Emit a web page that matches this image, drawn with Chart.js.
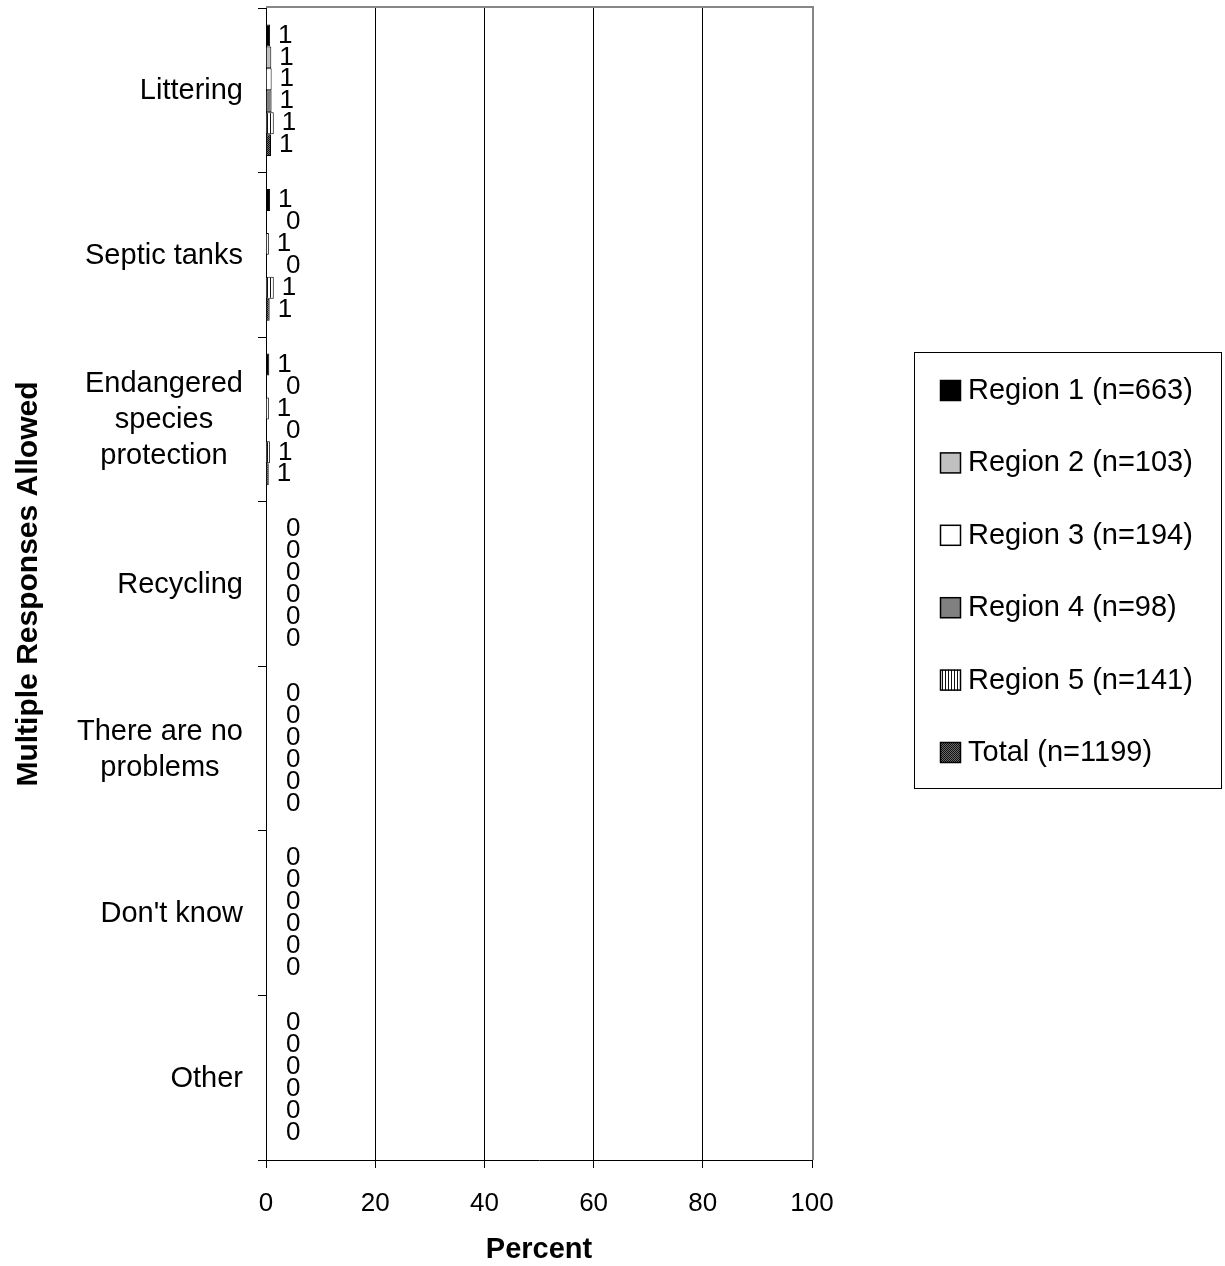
<!DOCTYPE html>
<html>
<head>
<meta charset="utf-8">
<script src="https://cdn.jsdelivr.net/npm/chart.js@4/dist/chart.umd.min.js"></script>
<style>
  html, body { margin: 0; padding: 0; background: #fff; }
  #wrap { width: 1225px; height: 1266px; }
</style>
</head>
<body>
<div id="wrap"><canvas id="chart" width="1225" height="1266"></canvas></div>
<script>
const categories = [
  "Littering",
  "Septic tanks",
  ["Endangered", "species", "protection"],
  "Recycling",
  ["There are no", "problems"],
  "Don't know",
  "Other"
];
const seriesNames = [
  "Region 1 (n=663)",
  "Region 2 (n=103)",
  "Region 3 (n=194)",
  "Region 4 (n=98)",
  "Region 5 (n=141)",
  "Total (n=1199)"
];
// percent values (labels are rounded)
const region1 = [0.75, 0.75, 0.6, 0, 0, 0, 0];
const region2 = [0.97, 0, 0, 0, 0, 0, 0];
const region3 = [1.03, 0.52, 0.52, 0, 0, 0, 0];
const region4 = [1.02, 0, 0, 0, 0, 0, 0];
const region5 = [1.42, 1.42, 0.71, 0, 0, 0, 0];
const total = [0.92, 0.67, 0.5, 0, 0, 0, 0];
const xMin = 0, xMax = 100, xStep = 20;

const FONT = 'Arial, "Liberation Sans", sans-serif';
Chart.defaults.font.family = FONT;
Chart.defaults.color = "#000";

const canvas = document.getElementById("chart");
const ctx = canvas.getContext("2d");

function makePattern(w, h, draw) {
  const c = document.createElement("canvas");
  c.width = w; c.height = h;
  draw(c.getContext("2d"));
  return ctx.createPattern(c, "repeat");
}

const stripes = makePattern(3, 3, g => {
  g.fillStyle = "#fff"; g.fillRect(0, 0, 3, 3);
  g.fillStyle = "#111"; g.fillRect(0, 0, 1, 3);
});
const hatch = makePattern(2, 2, g => {
  g.fillStyle = "#6a6a6a"; g.fillRect(0, 0, 2, 2);
  g.fillStyle = "#111"; g.fillRect(0, 0, 1, 1); g.fillRect(1, 1, 1, 1);
});

const fills = ["#000000", "#c0c0c0", "#ffffff", "#808080", stripes, hatch];
const values = [region1, region2, region3, region4, region5, total];

const datasets = values.map((v, i) => ({
  label: seriesNames[i],
  data: v,
  backgroundColor: fills[i],
  borderColor: "#000",
  borderWidth: 1,
  categoryPercentage: 0.8,
  barPercentage: 1.0
}));

const extras = {
  id: "extras",
  afterDatasetsDraw(chart) {
    const c = chart.ctx;
    c.save();
    c.font = "26px " + FONT;
    c.fillStyle = "#000";
    c.textAlign = "left";
    c.textBaseline = "middle";
    chart.data.datasets.forEach((ds, i) => {
      const meta = chart.getDatasetMeta(i);
      meta.data.forEach((bar, j) => {
        const v = ds.data[j];
        const x = v > 0 ? bar.x + 8 : bar.base + 20;
        c.fillText(String(Math.round(v)), x, bar.y);
      });
    });
    c.restore();
  },
  afterDraw(chart) {
    const c = chart.ctx;
    const area = chart.chartArea;
    const y = chart.scales.y;
    c.save();

    // grey frame on top and right of the plot area
    c.strokeStyle = "#868686";
    c.lineWidth = 2;
    c.beginPath();
    c.moveTo(area.left, area.top - 1);
    c.lineTo(area.right + 1, area.top - 1);
    c.lineTo(area.right + 1, area.bottom);
    c.stroke();

    // category labels: block right aligned, lines centered
    c.font = "29px " + FONT;
    c.fillStyle = "#000";
    c.textAlign = "center";
    c.textBaseline = "middle";
    const lineH = 36;
    const right = area.left - 23;
    chart.data.labels.forEach((lab, i) => {
      const lines = Array.isArray(lab) ? lab : [lab];
      const w = Math.max(...lines.map(s => c.measureText(s).width));
      const cy = y.getPixelForValue(i);
      lines.forEach((s, k) => {
        c.fillText(s, right - w / 2, cy + 1 + (k - (lines.length - 1) / 2) * lineH);
      });
    });

    // legend
    const lx = 914, ly = 352, lw = 307, lh = 436;
    c.strokeStyle = "#000";
    c.lineWidth = 1;
    c.strokeRect(lx + 0.5, ly + 0.5, lw, lh);
    c.textAlign = "left";
    chart.data.datasets.forEach((ds, i) => {
      const cy = 390 + i * 72.4;
      c.fillStyle = ds.backgroundColor;
      c.fillRect(940, cy - 10, 21, 21);
      c.strokeStyle = "#000";
      c.lineWidth = 1.5;
      c.strokeRect(940.5, cy - 9.5, 20, 20);
      c.fillStyle = "#000";
      c.fillText(ds.label, 968, cy + 1);
    });
    c.restore();
  }
};

new Chart(ctx, {
  type: "bar",
  data: { labels: categories, datasets },
  options: {
    indexAxis: "y",
    responsive: false,
    animation: false,
    layout: { padding: { top: 8, right: 413, bottom: 0, left: 0 } },
    plugins: {
      legend: { display: false },
      tooltip: { enabled: false }
    },
    scales: {
      x: {
        type: "linear",
        min: xMin,
        max: xMax,
        ticks: { stepSize: xStep, font: { size: 26 }, padding: 20, color: "#000" },
        grid: { color: "#000", lineWidth: 1, tickLength: 8 },
        border: { color: "#000", width: 1 },
        title: {
          display: true,
          text: "Percent",
          color: "#000",
          font: { size: 29, weight: "bold", lineHeight: 1.1 },
          padding: { top: 0, bottom: 0 }
        },
        afterFit: s => { s.height = 106; }
      },
      y: {
        type: "category",
        ticks: { display: false },
        grid: { offset: true, drawOnChartArea: false, color: "#000", tickLength: 8 },
        border: { color: "#000", width: 1 },
        title: {
          display: true,
          text: "Multiple Responses Allowed",
          color: "#000",
          font: { size: 30, weight: "bold" },
          padding: { top: 11, bottom: 0 }
        },
        afterFit: s => { s.width = 266; }
      }
    }
  },
  plugins: [extras]
});
</script>
</body>
</html>
